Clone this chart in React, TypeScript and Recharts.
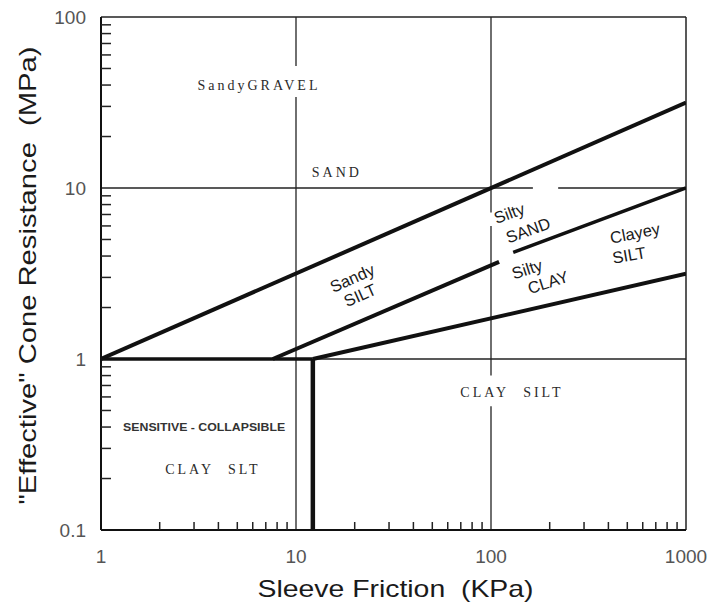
import React from "react";
import { LineChart, Line, XAxis, YAxis, ReferenceLine, ReferenceDot, Label } from "recharts";

// sleeve friction (kPa) ticks, log axis
const xTicks = [1, 2, 3, 4, 5, 6, 7, 8, 9, 10, 20, 30, 40, 50, 60, 70, 80, 90, 100, 200, 300, 400, 500, 600, 700, 800, 900, 1000];
const xMajor = [1, 10, 100, 1000];
const xTickLabels = ["1", "10", "100", "1000"];

// cone resistance (MPa) ticks, log axis
const yTicks = [0.1, 0.2, 0.3, 0.4, 0.5, 0.6, 0.7, 0.8, 0.9, 1, 2, 3, 4, 5, 6, 7, 8, 9, 10, 20, 30, 40, 50, 60, 70, 80, 90, 100];
const yMajor = [0.1, 1, 10, 100];
const yTickLabels = ["0.1", "1", "10", "100"];

// zone boundaries
const sandLine = [{ f: 1, q: 1 }, { f: 1000, q: 31.6 }];
const siltLineLow = [{ f: 7.6, q: 1 }, { f: 110, q: 3.7 }];
const siltLineHigh = [{ f: 130, q: 4.2 }, { f: 1000, q: 10 }];
const clayLine = [{ f: 12.2, q: 1 }, { f: 1000, q: 3.15 }];
const baseLine = [{ f: 1, q: 1 }, { f: 12.2, q: 1 }];
const sensitiveLine = [{ f: 12.2, q: 0.1 }, { f: 12.2, q: 1 }];

// grid segments (gaps where the scan breaks them)
const xGrid = [
  { f: 10, from: 0.1, to: 34 },
  { f: 10, from: 51.7, to: 100 },
  { f: 100, from: 0.1, to: 0.53 },
  { f: 100, from: 0.8, to: 6 },
  { f: 100, from: 7.2, to: 100 },
];
const yGrid = [
  { q: 1, from: 12.2, to: 1000 },
  { q: 10, from: 1, to: 164 },
  { q: 10, from: 221, to: 1000 },
];

// zone names
const zoneLabels = [
  { text: "SandyGRAVEL", f: 6.46, q: 39.5, angle: 0, kind: "type" },
  { text: "SAND", f: 16.2, q: 12.4, angle: 0, kind: "type" },
  { text: "Sandy", f: 19.4, q: 2.98, angle: -24, kind: "hand" },
  { text: "SILT", f: 21.3, q: 2.37, angle: -24, kind: "hand" },
  { text: "Silty", f: 124, q: 7.14, angle: -20, kind: "hand" },
  { text: "SAND", f: 155, q: 5.68, angle: -20, kind: "hand" },
  { text: "Silty", f: 153, q: 3.36, angle: -18, kind: "hand" },
  { text: "CLAY", f: 196, q: 2.82, angle: -18, kind: "hand" },
  { text: "Clayey", f: 547, q: 5.46, angle: -11, kind: "hand" },
  { text: "SILT", f: 510, q: 4.06, angle: -10, kind: "hand" },
  { text: "CLAY SILT", f: 128, q: 0.633, angle: 0, kind: "type" },
  { text: "SENSITIVE - COLLAPSIBLE", f: 3.38, q: 0.4, angle: 0, kind: "small" },
  { text: "CLAY SLT", f: 3.75, q: 0.227, angle: 0, kind: "type" },
];

const SANS = "'Liberation Sans', Arial, sans-serif";
const SERIF = "'Liberation Serif', 'Times New Roman', serif";

const labelStyles: Record<string, any> = {
  type: { fontFamily: SERIF, fontSize: 14, letterSpacing: 3, wordSpacing: 8, fill: "#2a2a2a" },
  hand: { fontFamily: SANS, fontSize: 16.5, fill: "#1a1a1a" },
  small: { fontFamily: SANS, fontSize: 11, fontWeight: "bold", fill: "#333", textLength: 162, lengthAdjust: "spacingAndGlyphs" },
};

const XTick = (props: any) => {
  const { x, y, payload } = props;
  const i = xMajor.indexOf(payload.value);
  if (i >= 0) {
    return (
      <text x={x} y={y + 33} textAnchor="middle" fontSize={19} fill="#555" fontFamily={SANS}>
        {xTickLabels[i]}
      </text>
    );
  }
  return <line x1={x} x2={x} y1={y} y2={y - 8} stroke="#222" strokeWidth={1.5} />;
};

const YTick = (props: any) => {
  const { x, y, payload } = props;
  const i = yMajor.indexOf(payload.value);
  if (i >= 0) {
    return (
      <text x={x - 15} y={y} textAnchor="end" dominantBaseline="central" fontSize={19} fill="#555" fontFamily={SANS}>
        {yTickLabels[i]}
      </text>
    );
  }
  return <line x1={x} x2={x + 10} y1={y} y2={y} stroke="#222" strokeWidth={1.5} />;
};

const boundary = { stroke: "#111", strokeWidth: 4, dot: false, isAnimationActive: false, type: "linear" as const };

export default function App() {
  return (
    <div style={{ width: 700, height: 600, background: "#fff" }}>
      <LineChart width={700} height={600} margin={{ top: 9, right: 22, bottom: 0, left: 0 }}>
        <XAxis
          dataKey="f"
          type="number"
          scale="log"
          domain={[1, 1000]}
          allowDataOverflow
          ticks={xTicks}
          interval={0}
          tick={<XTick />}
          tickLine={false}
          tickSize={0}
          tickMargin={0}
          height={78}
          axisLine={{ stroke: "#111", strokeWidth: 2 }}
        >
          <Label
            content={(p: any) => {
              const vb = p.viewBox;
              return (
                <text
                  x={vb.x + vb.width / 2 + 2}
                  y={589}
                  textAnchor="middle"
                  fontSize={24}
                  fill="#1a1a1a"
                  fontFamily={SANS}
                  textLength={276}
                  lengthAdjust="spacingAndGlyphs"
                  style={{ whiteSpace: "pre" }}
                >
                  Sleeve Friction  (KPa)
                </text>
              );
            }}
          />
        </XAxis>
        <YAxis
          dataKey="q"
          type="number"
          scale="log"
          domain={[0.1, 100]}
          allowDataOverflow
          ticks={yTicks}
          interval={0}
          tick={<YTick />}
          tickLine={false}
          tickSize={0}
          tickMargin={0}
          width={93}
          axisLine={{ stroke: "#111", strokeWidth: 2 }}
        >
          <Label
            content={(p: any) => {
              const vb = p.viewBox;
              const cy = vb.y + vb.height / 2 + 2;
              return (
                <text
                  x={19}
                  y={cy}
                  transform={`rotate(-90, 19, ${cy})`}
                  textAnchor="middle"
                  dominantBaseline="central"
                  fontSize={24}
                  fill="#1a1a1a"
                  fontFamily={SANS}
                  textLength={458}
                  lengthAdjust="spacingAndGlyphs"
                  style={{ whiteSpace: "pre" }}
                >
                  "Effective" Cone Resistance  (MPa)
                </text>
              );
            }}
          />
        </YAxis>

        <ReferenceLine y={100} stroke="#222" strokeWidth={1.5} ifOverflow="visible" />
        <ReferenceLine x={1000} stroke="#222" strokeWidth={1.5} ifOverflow="visible" />

        {xGrid.map((g, i) => (
          <ReferenceLine
            key={`xg${i}`}
            segment={[{ x: g.f, y: g.from }, { x: g.f, y: g.to }]}
            stroke="#222"
            strokeWidth={1.3}
            ifOverflow="visible"
          />
        ))}
        {yGrid.map((g, i) => (
          <ReferenceLine
            key={`yg${i}`}
            segment={[{ x: g.from, y: g.q }, { x: g.to, y: g.q }]}
            stroke="#222"
            strokeWidth={1.3}
            ifOverflow="visible"
          />
        ))}

        <Line data={sandLine} dataKey="q" {...boundary} />
        <Line data={siltLineLow} dataKey="q" {...boundary} />
        <Line data={siltLineHigh} dataKey="q" {...boundary} strokeWidth={3.5} />
        <Line data={clayLine} dataKey="q" {...boundary} />
        <Line data={baseLine} dataKey="q" {...boundary} strokeWidth={3.5} />
        <Line data={sensitiveLine} dataKey="q" {...boundary} strokeWidth={4.5} />

        {zoneLabels.map((l, i) => (
          <ReferenceDot
            key={`lbl${i}`}
            x={l.f}
            y={l.q}
            r={0}
            ifOverflow="visible"
            shape={(p: any) => (
              <text
                x={p.cx}
                y={p.cy}
                textAnchor="middle"
                dominantBaseline="central"
                transform={`rotate(${l.angle}, ${p.cx}, ${p.cy})`}
                {...labelStyles[l.kind]}
              >
                {l.text}
              </text>
            )}
          />
        ))}
      </LineChart>
    </div>
  );
}
